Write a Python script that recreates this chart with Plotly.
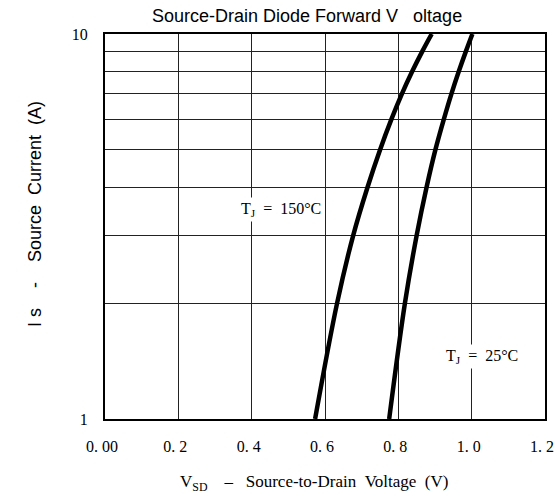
import plotly.graph_objects as go

current = [1, 2, 3, 4, 5, 6, 7, 8, 9, 10]
v_150 = [0.573, 0.633, 0.677, 0.716, 0.750, 0.781, 0.810, 0.838, 0.865, 0.891]
v_25 = [0.775, 0.818, 0.850, 0.877, 0.901, 0.924, 0.945, 0.965, 0.984, 1.002]

x_ticks = [0.0, 0.2, 0.4, 0.6, 0.8, 1.0, 1.2]
x_labels = ["0. 00", "0. 2", "0. 4", "0. 6", "0. 8", "1. 0", "1. 2"]
y_ticks = [1, 2, 3, 4, 5, 6, 7, 8, 9, 10]
y_labels = ["1", "", "", "", "", "", "", "", "", "10"]

NB = "\u00a0"
serif = "Liberation Serif"
sans = "Liberation Sans"

W, H = 557, 499
PL, PR, PT, PB = 105, 545, 34, 419


def px(sx):
    return (sx - PL) / (PR - PL)


def py(sy):
    return (PB - sy) / (PB - PT)


fig = go.Figure()
for v in (v_150, v_25):
    fig.add_trace(go.Scatter(x=v, y=current, mode="lines",
                             line=dict(color="black", width=4.5, shape="spline"),
                             showlegend=False, hoverinfo="skip"))

fig.update_layout(
    width=W, height=H,
    margin=dict(l=PL, r=W - PR, t=PT, b=H - PB, autoexpand=False),
    paper_bgcolor="white", plot_bgcolor="white",
    showlegend=False,
)

fig.update_xaxes(
    range=[0, 1.2], tickvals=x_ticks, ticktext=x_labels,
    showgrid=True, gridcolor="#222", gridwidth=1,
    showline=True, linecolor="black", linewidth=2, mirror=True,
    ticks="outside", ticklen=12, tickcolor="rgba(0,0,0,0)",
    ticklabelshift=-3,
    zeroline=False, automargin=False,
    tickfont=dict(family=serif, size=16, color="black"),
)
fig.update_yaxes(
    type="log", range=[0, 1], tickvals=y_ticks, ticktext=y_labels,
    showgrid=True, gridcolor="#222", gridwidth=1,
    showline=True, linecolor="black", linewidth=2, mirror=True,
    ticks="outside", ticklen=12, tickcolor="rgba(0,0,0,0)",
    zeroline=False, automargin=False,
    tickfont=dict(family=serif, size=16, color="black"),
)

# title
fig.add_annotation(x=px(307), y=py(16), xref="paper", yref="paper",
                   xanchor="center", yanchor="middle",
                   text="Source-Drain Diode Forward V" + NB * 3 + "oltage",
                   showarrow=False,
                   font=dict(family=sans, size=18, color="black"))

# axis titles
fig.add_annotation(x=px(35), y=py(214), xref="paper", yref="paper",
                   xanchor="center", yanchor="middle",
                   text="I s" + NB * 4 + "-" + NB * 4 + "Source" + NB * 2 + "Current" + NB * 2 + "(A)",
                   textangle=-90, showarrow=False,
                   font=dict(family=sans, size=18, color="black"))
fig.add_annotation(x=px(314), y=py(483), xref="paper", yref="paper",
                   xanchor="center", yanchor="middle",
                   text="V<sub>SD</sub>" + NB * 4 + "–" + NB * 3 + "Source-to-Drain" + NB * 2 + "Voltage" + NB * 2 + "(V)",
                   showarrow=False,
                   font=dict(family=serif, size=17, color="black"))

# curve labels
fig.add_annotation(x=px(281), y=py(209), xref="paper", yref="paper",
                   xanchor="center", yanchor="middle",
                   text="T<sub>J</sub>" + NB * 2 + "=" + NB * 2 + "150°C", showarrow=False,
                   font=dict(family=serif, size=16, color="black"),
                   bgcolor="white", borderpad=2)
fig.add_annotation(x=px(482), y=py(356), xref="paper", yref="paper",
                   xanchor="center", yanchor="middle",
                   text="T<sub>J</sub>" + NB * 2 + "=" + NB * 2 + "25°C", showarrow=False,
                   font=dict(family=serif, size=16, color="black"),
                   bgcolor="white", borderpad=2)

fig.write_html(
    "out.html",
    config={"displayModeBar": False},
    post_script="document.body.style.margin='0';document.body.style.overflow='hidden';",
)
